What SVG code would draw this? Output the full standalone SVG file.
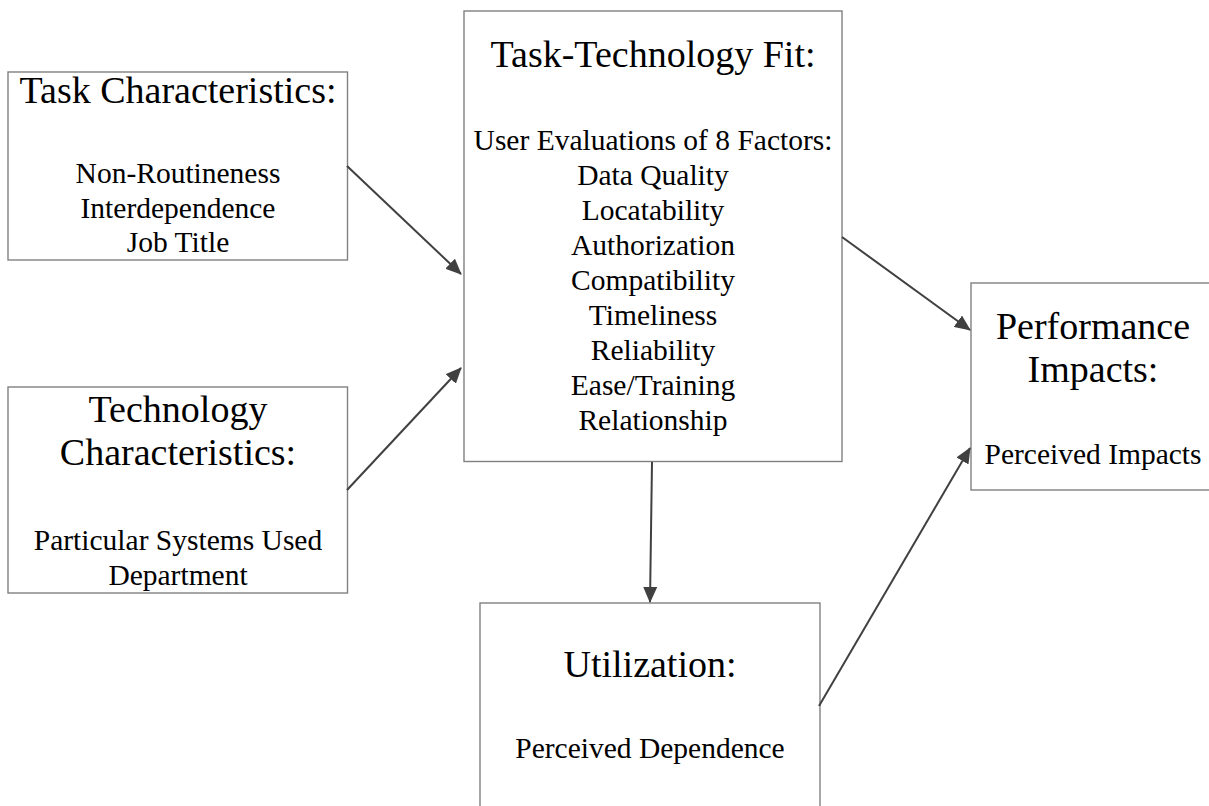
<svg xmlns="http://www.w3.org/2000/svg" width="1209" height="806" viewBox="0 0 1209 806">
<style>
.box{fill:#ffffff;stroke:#808080;stroke-width:1.4}
.t{font-family:"Liberation Serif","Times New Roman",serif;fill:#000;text-anchor:middle}
.h{font-size:38px}
.b{font-size:29.5px}
.c{stroke:#404040;stroke-width:2;fill:none;marker-end:url(#ah)}
</style>
<defs>
<marker id="ah" markerWidth="16" markerHeight="14" refX="15" refY="7" orient="auto" markerUnits="userSpaceOnUse">
<path d="M0,0 L16,7 L0,14 Z" fill="#404040"/>
</marker>
</defs>
<rect width="1209" height="806" fill="#ffffff"/>
<g id="task">
<rect class="box" x="8" y="72" width="339.5" height="188"/>
<text class="t h" x="178" y="103">Task Characteristics:</text>
<text class="t b" x="178" y="183">Non-Routineness</text>
<text class="t b" x="178" y="218">Interdependence</text>
<text class="t b" x="178" y="252">Job Title</text>
</g>
<g id="technology">
<rect class="box" x="8" y="387" width="339.5" height="206"/>
<text class="t h" x="178" y="422">Technology</text>
<text class="t h" x="178" y="465">Characteristics:</text>
<text class="t b" x="178" y="550">Particular Systems Used</text>
<text class="t b" x="178" y="585">Department</text>
</g>
<g id="ttf">
<rect class="box" x="464" y="11" width="378" height="450.5"/>
<text class="t h" x="653" y="67">Task-Technology Fit:</text>
<text class="t b" x="653" y="150">User Evaluations of 8 Factors:</text>
<text class="t b" x="653" y="185">Data Quality</text>
<text class="t b" x="653" y="220">Locatability</text>
<text class="t b" x="653" y="255">Authorization</text>
<text class="t b" x="653" y="290">Compatibility</text>
<text class="t b" x="653" y="325">Timeliness</text>
<text class="t b" x="653" y="360">Reliability</text>
<text class="t b" x="653" y="395">Ease/Training</text>
<text class="t b" x="653" y="430">Relationship</text>
</g>
<g id="utilization">
<rect class="box" x="480" y="603" width="340" height="215"/>
<text class="t h" x="650" y="677">Utilization:</text>
<text class="t b" x="650" y="758">Perceived Dependence</text>
</g>
<g id="performance">
<rect class="box" x="971" y="283" width="250" height="207"/>
<text class="t h" x="1093" y="339">Performance</text>
<text class="t h" x="1093" y="382">Impacts:</text>
<text class="t b" x="1093" y="464">Perceived Impacts</text>
</g>
<g id="connectors">
<line class="c" x1="347" y1="166" x2="461" y2="274"/>
<line class="c" x1="347" y1="490" x2="461" y2="368"/>
<line class="c" x1="842" y1="237" x2="970" y2="330"/>
<line class="c" x1="652" y1="462" x2="650" y2="602"/>
<line class="c" x1="819" y1="706" x2="970" y2="448"/>
</g>
</svg>
